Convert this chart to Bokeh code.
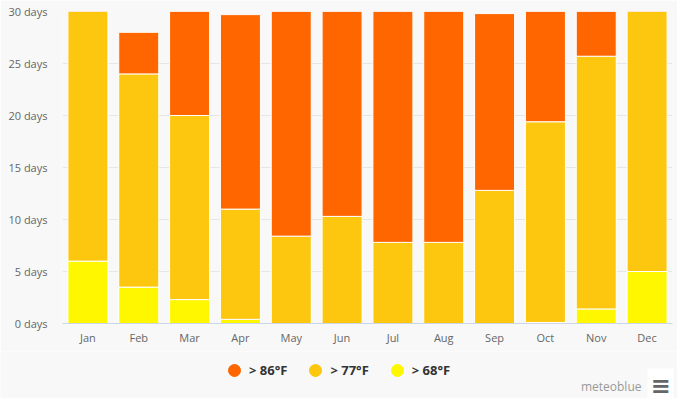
from bokeh.plotting import figure
from bokeh.layouts import column
from bokeh.models import ColumnDataSource, Legend, LegendItem, FixedTicker, Label
from bokeh.embed import file_html
from bokeh.resources import INLINE

months = ["Jan", "Feb", "Mar", "Apr", "May", "Jun", "Jul", "Aug", "Sep", "Oct", "Nov", "Dec"]
above_68 = [6.0, 3.5, 2.3, 0.4, 0.0, 0.0, 0.0, 0.0, 0.0, 0.1, 1.4, 5.0]
above_77 = [25.0, 20.5, 17.7, 10.6, 8.4, 10.3, 7.8, 7.8, 12.8, 19.3, 24.3, 26.0]
above_86 = [0.0, 4.0, 11.0, 18.7, 22.6, 19.7, 23.2, 23.2, 17.0, 11.6, 4.3, 0.0]
series_labels = ["> 68°F", "> 77°F", "> 86°F"]
series_colors = ["#fff700", "#fcc70e", "#ff6600"]
y_ticks = [0, 5, 10, 15, 20, 25, 30]
y_tick_labels = [f"{t} days" for t in y_ticks]

BG = "#f8f8f8"
FONT = "Open Sans"

src = ColumnDataSource(dict(month=months, a68=above_68, a77=above_77, a86=above_86))

p = figure(x_range=months, y_range=(0, 30), width=677, height=351,
           output_backend="svg", toolbar_location=None,
           min_border_left=62, min_border_right=5, min_border_top=11, min_border_bottom=28)
p.frame_align = False
p.background_fill_color = BG
p.border_fill_color = BG
p.outline_line_color = None

p.vbar_stack(["a68", "a77", "a86"], x="month", width=0.787, source=src,
             color=series_colors, line_color="white", line_width=1)

# axes
p.yaxis.ticker = FixedTicker(ticks=y_ticks)
p.yaxis.major_label_overrides = {t: l for t, l in zip(y_ticks, y_tick_labels)}
p.yaxis.axis_line_color = None
p.yaxis.major_tick_line_color = None
p.yaxis.minor_tick_line_color = None
p.yaxis.major_label_standoff = 9
p.yaxis.major_label_text_font = FONT
p.yaxis.major_label_text_font_size = "11px"
p.yaxis.major_label_text_color = "#666666"

p.xaxis.axis_line_color = "#ccd6eb"
p.xaxis.major_tick_line_color = None
p.xaxis.minor_tick_line_color = None
p.xaxis.major_tick_out = 0
p.xaxis.major_label_standoff = 6
p.xaxis.major_label_text_font = FONT
p.xaxis.major_label_text_font_size = "11px"
p.xaxis.major_label_text_color = "#666666"

p.xgrid.grid_line_color = None
p.ygrid.grid_line_color = "#e6e6e6"

# bottom strip: legend + credits
p2 = figure(width=677, height=47, x_range=(0, 1), y_range=(0, 1),
            output_backend="svg", toolbar_location=None,
            x_axis_type=None, y_axis_type=None,
            min_border_left=0, min_border_right=0, min_border_top=0, min_border_bottom=0)
p2.frame_align = False
p2.background_fill_color = BG
p2.border_fill_color = BG
p2.outline_line_color = None
p2.xgrid.visible = False
p2.ygrid.visible = False

items = []
nan = float("nan")
for lab, col in zip(reversed(series_labels), reversed(series_colors)):
    # legend proxy: a single off-screen point so the legend can draw its circle
    r = p2.scatter(x=[nan], y=[nan], marker="circle", size=12,
                   fill_color=col, line_color=col)
    items.append(LegendItem(label=lab, renderers=[r]))
legend = Legend(items=items, orientation="horizontal", location=(219, 13),
                glyph_width=30, glyph_height=30, label_standoff=0, spacing=13,
                padding=0, margin=0, background_fill_alpha=0, border_line_alpha=0,
                label_text_font=FONT, label_text_font_size="13px",
                label_text_font_style="bold", label_text_color="#333333")
p2.add_layout(legend, "center")

p2.add_layout(Label(x=641, y=12, x_units="screen", y_units="screen", text="meteoblue",
                    text_align="right", text_baseline="middle", text_font=FONT,
                    text_font_size="12px", text_color="#999999"))
p2.add_layout(Label(x=660, y=13, x_units="screen", y_units="screen", text="≡",
                    text_align="center", text_baseline="middle", text_font="DejaVu Sans",
                    text_font_style="bold", text_font_size="24px", text_color="#666666",
                    background_fill_color="white", background_fill_alpha=1.0, padding=3))

layout = column(p, p2, spacing=0)
open("out.html", "w").write(file_html(layout, INLINE))
